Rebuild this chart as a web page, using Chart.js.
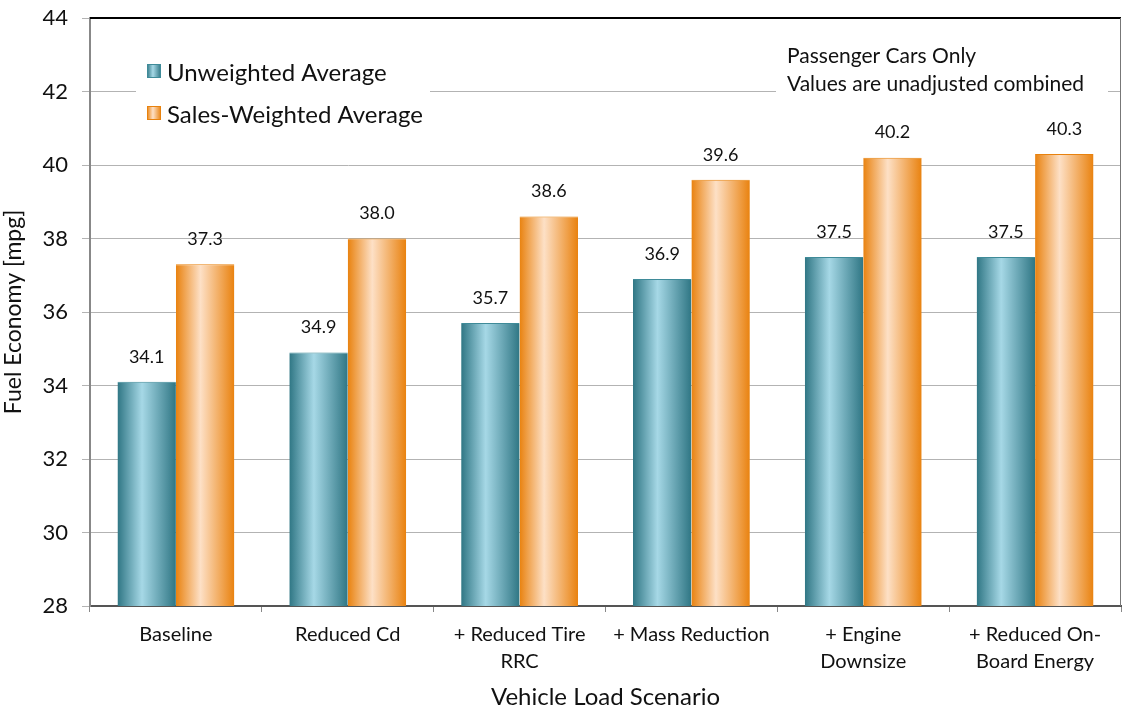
<!DOCTYPE html>
<html>
<head>
<meta charset="utf-8">
<script src="https://cdn.jsdelivr.net/npm/chart.js@4.4.1/dist/chart.umd.min.js"></script>
<style>
  body { margin: 0; background: #fff; }
  canvas { display: block; }
</style>
</head>
<body>
<canvas id="fuelChart" width="1124" height="712"></canvas>
<script>
// chart data
var scenarios = ['Baseline', 'Reduced Cd', ['+ Reduced Tire', 'RRC'], '+ Mass Reduction', ['+ Engine', 'Downsize'], ['+ Reduced On-', 'Board Energy']];
var unweighted = [34.1, 34.9, 35.7, 36.9, 37.5, 37.5];
var salesWeighted = [37.3, 38.0, 38.6, 39.6, 40.2, 40.3];
var seriesNames = ['Unweighted Average', 'Sales-Weighted Average'];
var noteLines = ['Passenger Cars Only', 'Values are unadjusted combined'];

var FONT = 'Lato, "Open Sans", sans-serif';

// edge / middle colours for the cylinder look
var palettes = [
    { edge: '#2f7684', mid: '#a6d8e6', border: '#3f8b99' },
    { edge: '#e9820f', mid: '#fde0c6', border: '#e8820e' }
];

function cylinder(ctx, x0, x1, pal) {
    var g = ctx.createLinearGradient(x0, 0, x1, 0);
    g.addColorStop(0, pal.edge);
    g.addColorStop(0.42, pal.mid);
    g.addColorStop(1, pal.edge);
    return g;
}

var gradientBars = {
    id: 'gradientBars',
    beforeDatasetDraw: function(chart, args) {
        var pal = palettes[args.index];
        args.meta.data.forEach(function(bar) {
            var left = bar.x - bar.width / 2;
            bar.options = Object.assign({}, bar.options, {
                backgroundColor: cylinder(chart.ctx, left, left + bar.width, pal)
            });
        });
    }
};

var valueLabels = {
    id: 'valueLabels',
    afterDatasetsDraw: function(chart) {
        var ctx = chart.ctx;
        ctx.save();
        ctx.font = '18px ' + FONT;
        ctx.fillStyle = '#111';
        ctx.textAlign = 'center';
        ctx.textBaseline = 'bottom';
        chart.data.datasets.forEach(function(ds, i) {
            chart.getDatasetMeta(i).data.forEach(function(bar, j) {
                ctx.fillText(ds.data[j].toFixed(1), bar.x, bar.y - 16);
            });
        });
        ctx.restore();
    }
};

var frameAndKey = {
    id: 'frameAndKey',
    afterDraw: function(chart) {
        var ctx = chart.ctx;
        var a = chart.chartArea;
        ctx.save();
        // top and right frame
        ctx.strokeStyle = '#000';
        ctx.lineWidth = 2;
        ctx.beginPath();
        ctx.moveTo(a.left, a.top);
        ctx.lineTo(a.right, a.top);
        ctx.stroke();
        ctx.strokeStyle = '#777';
        ctx.lineWidth = 1;
        ctx.beginPath();
        ctx.moveTo(a.right - 0.5, a.top);
        ctx.lineTo(a.right - 0.5, a.bottom);
        ctx.stroke();

        // legend box
        ctx.fillStyle = '#fff';
        ctx.fillRect(136, 40, 294, 96);
        ctx.font = '24px ' + FONT;
        ctx.textBaseline = 'middle';
        ctx.textAlign = 'left';
        seriesNames.forEach(function(name, i) {
            var y = i === 0 ? 73 : 115;
            ctx.fillStyle = cylinder(ctx, 147, 161, palettes[i]);
            ctx.fillRect(147, y - 9, 14, 14);
            ctx.strokeStyle = palettes[i].border;
            ctx.lineWidth = 1;
            ctx.strokeRect(147.5, y - 8.5, 13, 13);
            ctx.fillStyle = '#111';
            ctx.fillText(name, 167, y);
        });

        // note box
        ctx.fillStyle = '#fff';
        ctx.fillRect(776, 38, 332, 66);
        ctx.fillStyle = '#111';
        ctx.font = '21px ' + FONT;
        ctx.fillText(noteLines[0], 787, 56);
        ctx.fillText(noteLines[1], 787, 84);
        ctx.restore();
    }
};

var ctx = document.getElementById('fuelChart').getContext('2d');
var fuelChart = new Chart(ctx, {
    type: 'bar',
    data: {
        labels: scenarios,
        datasets: [{
            label: seriesNames[0],
            data: unweighted,
            backgroundColor: palettes[0].edge,
            borderColor: palettes[0].border,
            borderWidth: { top: 1, left: 0, right: 0, bottom: 0 },
            categoryPercentage: 0.68,
            barPercentage: 1.0
        }, {
            label: seriesNames[1],
            data: salesWeighted,
            backgroundColor: palettes[1].edge,
            borderColor: palettes[1].border,
            borderWidth: { top: 1, left: 0, right: 0, bottom: 0 },
            categoryPercentage: 0.68,
            barPercentage: 1.0
        }]
    },
    options: {
        responsive: false,
        animation: false,
        layout: { autoPadding: false, padding: { top: 18, right: 3, left: 0, bottom: 0 } },
        plugins: {
            legend: { display: false },
            tooltip: { enabled: false }
        },
        scales: {
            x: {
                grid: { display: true, drawOnChartArea: false, color: '#888', tickLength: 6, offset: true },
                border: { color: '#555', width: 2 },
                ticks: { color: '#111', font: { family: FONT, size: 20, lineHeight: 1.35 }, padding: 9, maxRotation: 0, autoSkip: false },
                title: { display: true, text: 'Vehicle Load Scenario', color: '#111', font: { family: FONT, size: 24 }, padding: { top: 4, bottom: 0 } },
                afterFit: function(scale) { scale.height = 106; }
            },
            y: {
                min: 28,
                max: 44,
                ticks: { stepSize: 2, color: '#111', font: { family: FONT, size: 22 }, padding: 14 },
                grid: { color: '#b3b3b3', tickLength: 8 },
                border: { color: '#888', width: 2 },
                title: { display: true, text: 'Fuel Economy [mpg]', color: '#111', font: { family: FONT, size: 23 }, padding: { top: 0, bottom: 0 } },
                afterFit: function(scale) {
                    scale.width = 90;
                    scale.paddingTop = 0;
                    scale.paddingBottom = 0;
                }
            }
        }
    },
    plugins: [gradientBars, valueLabels, frameAndKey]
});
</script>
</body>
</html>
